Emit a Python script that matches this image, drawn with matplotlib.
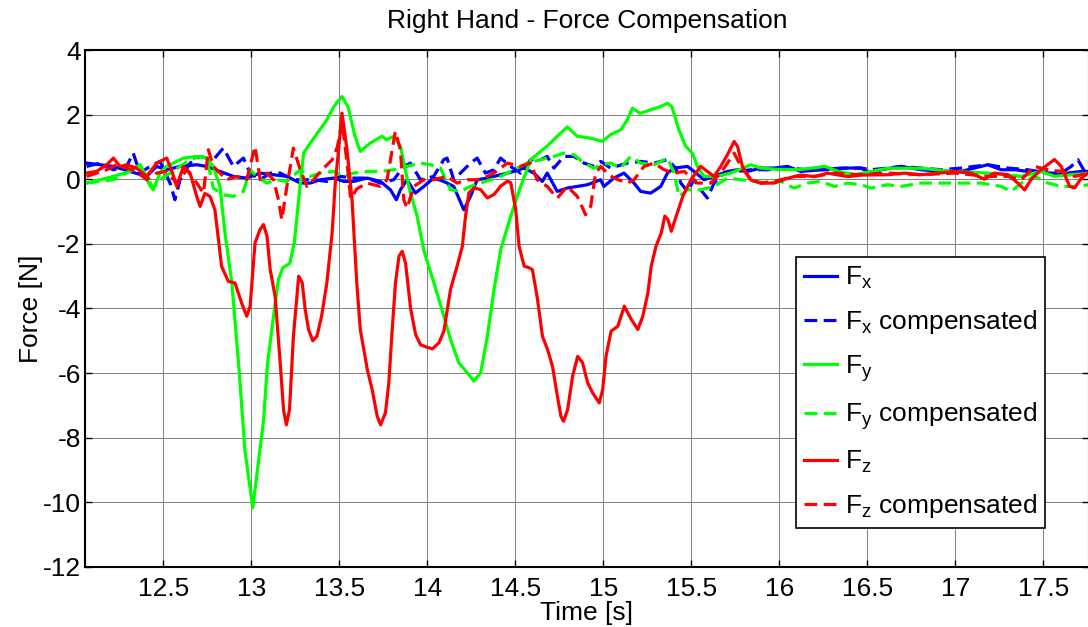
import matplotlib
matplotlib.use("Agg")
import matplotlib.pyplot as plt
from matplotlib.ticker import FormatStrFormatter

# values (time in s, force in N)
t_fx = [12.065, 12.141, 12.217, 12.311, 12.406, 12.463, 12.52, 12.596, 12.691, 12.748, 12.823, 12.899,
        12.975, 13.051, 13.127, 13.203, 13.279, 13.336, 13.393, 13.469, 13.526, 13.582, 13.658, 13.734,
        13.791, 13.825, 13.848, 13.886, 13.933, 13.981, 14.037, 14.094, 14.151, 14.208, 14.246, 14.284,
        14.341, 14.417, 14.492, 14.549, 14.606, 14.654, 14.682, 14.739, 14.796, 14.853, 14.91, 14.985,
        15.004, 15.061, 15.118, 15.175, 15.213, 15.27, 15.327, 15.365, 15.403, 15.479, 15.516, 15.573,
        15.63, 15.706, 15.763, 15.82, 15.896, 15.971, 16.047, 16.123, 16.237, 16.351, 16.465, 16.521,
        16.578, 16.692, 16.806, 16.92, 17.033, 17.109, 17.185, 17.261, 17.337, 17.413, 17.488, 17.564,
        17.64, 17.716, 17.761]
fx = [0.5, 0.449, 0.397, 0.242, 0.088, 0.397, 0.294, 0.397, 0.449, 0.397, 0.242, 0.088,
      0.036, 0.191, 0.139, 0.088, -0.118, -0.118, -0.015, 0.036, -0.067, -0.067, 0.036, -0.067,
      -0.325, -0.634, -0.325, -0.015, -0.428, -0.222, 0.036, -0.067, -0.222, -0.944, -0.531, -0.015,
      0.036, 0.139, 0.242, 0.346, 0.191, -0.067, 0.191, -0.377, -0.273, -0.222, -0.17, -0.015,
      -0.222, 0.036, 0.191, -0.118, -0.377, -0.428, -0.222, 0.191, 0.346, 0.397, 0.242, -0.015,
      0.088, 0.242, 0.294, 0.242, 0.346, 0.346, 0.397, 0.242, 0.294, 0.346, 0.346, 0.191,
      0.294, 0.397, 0.294, 0.242, 0.242, 0.346, 0.449, 0.294, 0.294, 0.242, 0.242, 0.139,
      0.191, 0.242, 0.242]

t_fx_comp = [12.065, 12.141, 12.217, 12.292, 12.33, 12.368, 12.425, 12.482, 12.539, 12.567, 12.596, 12.653,
             12.71, 12.785, 12.842, 12.899, 12.956, 12.994, 13.051, 13.108, 13.165, 13.24, 13.279, 13.355,
             13.431, 13.507, 13.582, 13.658, 13.734, 13.81, 13.867, 13.905, 13.962, 14.037, 14.094, 14.113,
             14.151, 14.189, 14.246, 14.284, 14.331, 14.379, 14.417, 14.474, 14.53, 14.587, 14.644, 14.682,
             14.72, 14.777, 14.834, 14.891, 14.948, 14.986, 15.042, 15.137, 15.213, 15.289, 15.365, 15.412,
             15.441, 15.479, 15.516, 15.554, 15.592, 15.63, 15.687, 15.763, 15.839, 15.934, 16.047, 16.161,
             16.275, 16.389, 16.465, 16.521, 16.616, 16.692, 16.806, 16.92, 17.033, 17.185, 17.299, 17.413,
             17.526, 17.602, 17.659, 17.697, 17.735, 17.761]
fx_comp = [0.397, 0.5, 0.294, 0.397, 0.81, 0.191, 0.397, 0.552, -0.118, -0.634, -0.015, 0.5,
           0.707, 0.604, 0.965, 0.397, 0.655, 0.191, -0.015, 0.191, 0.191, -0.015, -0.015, -0.015,
           -0.067, 0.088, 0.036, 0.036, -0.118, -0.015, 0.397, 0.5, -0.015, 0.088, 0.604, 0.655,
           -0.015, 0.191, 0.5, 0.655, 0.191, 0.294, 0.655, 0.397, 0.191, 0.604, 0.604, 0.707,
           0.346, 0.707, 0.707, 0.5, 0.397, 0.552, 0.346, 0.5, 0.552, 0.5, 0.604, 0.346,
           -0.118, -0.377, -0.015, -0.325, -0.583, -0.118, 0.191, 0.242, 0.294, 0.294, 0.346, 0.294,
           0.294, 0.346, 0.346, 0.294, 0.346, 0.397, 0.346, 0.294, 0.346, 0.449, 0.346, 0.294,
           0.191, 0.191, 0.397, 0.604, 0.242, 0.346]

t_fy = [12.065, 12.141, 12.217, 12.311, 12.368, 12.425, 12.444, 12.482, 12.52, 12.615, 12.691, 12.748,
        12.785, 12.823, 12.85, 12.89, 12.93, 12.965, 13.009, 13.07, 13.093, 13.127, 13.155, 13.18,
        13.22, 13.245, 13.27, 13.298, 13.336, 13.39, 13.43, 13.47, 13.516, 13.55, 13.59, 13.62,
        13.677, 13.743, 13.77, 13.81, 13.848, 13.9, 13.943, 13.98, 14.038, 14.095, 14.133, 14.18,
        14.228, 14.266, 14.304, 14.342, 14.38, 14.418, 14.475, 14.532, 14.589, 14.68, 14.74, 14.796,
        14.853, 14.93, 14.995, 15.042, 15.1, 15.137, 15.166, 15.21, 15.27, 15.327, 15.365, 15.39,
        15.43, 15.468, 15.507, 15.535, 15.572, 15.648, 15.724, 15.838, 15.89, 16.0, 16.12, 16.26,
        16.33, 16.427, 16.616, 16.806, 16.995, 17.185, 17.375, 17.488, 17.564, 17.761]
fy = [-0.118, -0.015, 0.088, 0.242, 0.449, -0.2, -0.325, 0.2, 0.397, 0.655, 0.707, 0.655,
      0.397, -0.222, -1.6, -3.2, -5.8, -8.4, -10.17, -7.5, -5.7, -4.24, -3.1, -2.74,
      -2.6, -1.97, -0.63, 0.81, 1.12, 1.53, 1.84, 2.25, 2.56, 2.25, 1.33, 0.86,
      1.12, 1.33, 1.22, 1.33, 1.02, -0.33, -1.14, -2.18, -3.2, -4.24, -4.96, -5.68,
      -5.99, -6.25, -5.99, -4.86, -3.41, -2.18, -1.14, -0.21, 0.61, 1.02, 1.33, 1.62,
      1.33, 1.27, 1.17, 1.38, 1.53, 1.84, 2.2, 2.04, 2.15, 2.25, 2.35, 2.25,
      1.53, 1.02, 0.81, 0.4, 0.09, 0.09, 0.19, 0.45, 0.35, 0.3, 0.3, 0.4,
      0.25, 0.14, 0.34, 0.34, 0.24, 0.19, 0.09, 0.24, 0.09, 0.19]

t_fy_comp = [12.065, 12.141, 12.217, 12.292, 12.368, 12.444, 12.482, 12.539, 12.596, 12.653, 12.71, 12.748,
             12.785, 12.842, 12.899, 12.956, 12.994, 13.032, 13.089, 13.146, 13.203, 13.279, 13.336, 13.393,
             13.469, 13.526, 13.582, 13.658, 13.734, 13.81, 13.886, 13.962, 14.018, 14.075, 14.132, 14.189,
             14.246, 14.303, 14.36, 14.417, 14.492, 14.568, 14.644, 14.72, 14.777, 14.834, 14.891, 14.948,
             14.986, 15.042, 15.099, 15.156, 15.213, 15.289, 15.365, 15.403, 15.431, 15.479, 15.554, 15.63,
             15.706, 15.782, 15.858, 15.934, 16.009, 16.085, 16.161, 16.237, 16.313, 16.389, 16.465, 16.521,
             16.616, 16.692, 16.806, 16.92, 17.033, 17.147, 17.261, 17.318, 17.375, 17.451, 17.526, 17.602,
             17.678, 17.761]
fy_comp = [-0.118, -0.067, -0.015, 0.191, 0.449, -0.273, -0.015, 0.191, 0.397, 0.604, 0.707, 0.655,
           -0.273, -0.48, -0.531, -0.377, 0.294, 0.088, -0.118, -0.015, -0.067, 0.294, 0.088, 0.191,
           0.242, 0.088, 0.191, 0.242, 0.242, 0.294, 0.397, 0.5, 0.449, 0.346, -0.325, -0.377,
           -0.222, -0.118, -0.015, 0.088, 0.294, 0.5, 0.604, 0.707, 0.81, 0.759, 0.5, 0.346,
           0.449, 0.5, 0.346, 0.707, 0.5, 0.449, 0.655, 0.191, -0.531, -0.325, -0.325, -0.222,
           0.036, -0.015, -0.067, -0.118, -0.067, -0.273, -0.118, -0.067, -0.222, -0.118, -0.17, -0.273,
           -0.17, -0.222, -0.118, -0.118, -0.118, -0.118, -0.222, -0.377, -0.118, 0.088, -0.118, -0.222,
           -0.222, -0.17]

t_fz = [12.065, 12.122, 12.179, 12.217, 12.255, 12.292, 12.349, 12.406, 12.463, 12.52, 12.547, 12.577,
        12.615, 12.653, 12.691, 12.71, 12.737, 12.766, 12.794, 12.832, 12.87, 12.908, 12.946, 12.975,
        12.994, 13.022, 13.05, 13.07, 13.09, 13.108, 13.136, 13.165, 13.184, 13.2, 13.218, 13.24,
        13.27, 13.29, 13.307, 13.326, 13.35, 13.374, 13.4, 13.43, 13.46, 13.478, 13.497, 13.516,
        13.545, 13.573, 13.6, 13.62, 13.66, 13.687, 13.716, 13.735, 13.763, 13.782, 13.8, 13.82,
        13.84, 13.858, 13.877, 13.906, 13.934, 13.962, 14.0, 14.03, 14.067, 14.095, 14.133, 14.17,
        14.2, 14.218, 14.237, 14.266, 14.304, 14.342, 14.38, 14.418, 14.456, 14.475, 14.503, 14.522,
        14.551, 14.58, 14.598, 14.627, 14.655, 14.684, 14.712, 14.74, 14.76, 14.775, 14.798, 14.826,
        14.855, 14.883, 14.912, 14.94, 14.978, 14.997, 15.016, 15.045, 15.083, 15.12, 15.16, 15.197,
        15.225, 15.254, 15.273, 15.3, 15.33, 15.35, 15.368, 15.387, 15.415, 15.453, 15.5, 15.554,
        15.592, 15.63, 15.668, 15.706, 15.744, 15.763, 15.791, 15.838, 15.896, 15.971, 16.047, 16.123,
        16.2, 16.275, 16.39, 16.465, 16.616, 16.711, 16.806, 16.9, 16.995, 17.09, 17.166, 17.223,
        17.299, 17.356, 17.394, 17.432, 17.488, 17.564, 17.602, 17.65, 17.678, 17.716, 17.754]
fz = [0.191, 0.242, 0.449, 0.655, 0.397, 0.449, 0.346, 0.088, 0.5, 0.655, 0.294, -0.222,
      0.397, 0.191, -0.531, -0.84, -0.44, -0.531, -0.94, -2.69, -3.16, -3.21, -3.83, -4.24,
      -3.93, -1.97, -1.56, -1.4, -1.76, -2.79, -3.62, -5.68, -7.13, -7.6, -7.13, -4.86,
      -3.0, -3.2, -4.03, -4.65, -5.0, -4.86, -4.24, -3.21, -1.66, -0.11, 0.92, 2.05,
      0.9, -0.63, -3.2, -4.65, -5.89, -6.5, -7.33, -7.6, -7.23, -6.3, -4.76, -3.2,
      -2.38, -2.23, -2.59, -4.0, -4.8, -5.12, -5.2, -5.25, -5.06, -4.7, -3.4, -2.69,
      -2.07, -1.14, -0.42, -0.27, -0.32, -0.58, -0.47, -0.21, -0.06, -0.11, -0.94, -2.07,
      -2.69, -2.74, -2.8, -3.72, -4.86, -5.27, -5.79, -6.72, -7.34, -7.49, -7.13, -6.1,
      -5.48, -5.68, -6.3, -6.61, -6.92, -6.51, -5.48, -4.7, -4.55, -3.93, -4.34, -4.65,
      -4.24, -3.52, -2.69, -2.07, -1.66, -1.14, -1.25, -1.61, -1.14, -0.52, 0.0, 0.4,
      0.24, 0.09, 0.4, 0.76, 1.17, 1.02, 0.4, -0.02, -0.12, -0.12, 0.03, 0.13,
      0.08, 0.19, 0.08, 0.13, 0.14, 0.19, 0.14, 0.19, 0.24, 0.19, 0.0, 0.19,
      0.14, -0.12, -0.33, 0.0, 0.3, 0.61, 0.4, -0.22, -0.27, 0.03, 0.19]

t_fz_comp = [12.065, 12.122, 12.179, 12.236, 12.292, 12.349, 12.406, 12.463, 12.52, 12.577, 12.634, 12.691,
             12.729, 12.757, 12.785, 12.823, 12.861, 12.918, 12.975, 13.022, 13.051, 13.089, 13.127, 13.155,
             13.174, 13.203, 13.24, 13.279, 13.317, 13.355, 13.402, 13.46, 13.49, 13.516, 13.545, 13.565,
             13.6, 13.658, 13.734, 13.772, 13.819, 13.848, 13.867, 13.886, 13.924, 13.981, 14.037, 14.113,
             14.17, 14.227, 14.303, 14.379, 14.455, 14.53, 14.587, 14.625, 14.682, 14.739, 14.796, 14.853,
             14.9, 14.929, 14.957, 14.986, 15.023, 15.061, 15.137, 15.175, 15.232, 15.289, 15.346, 15.403,
             15.46, 15.535, 15.611, 15.668, 15.706, 15.744, 15.782, 15.839, 15.896, 15.971, 16.085, 16.199,
             16.313, 16.465, 16.616, 16.806, 16.995, 17.185, 17.299, 17.375, 17.413, 17.451, 17.526, 17.602,
             17.678, 17.761]
fz_comp = [0.088, 0.191, 0.294, 0.449, 0.346, 0.242, -0.015, 0.191, 0.242, -0.118, 0.294, -0.118,
           -0.428, 0.913, 0.397, 0.191, -0.015, 0.088, -0.015, 1.016, -0.015, 0.191, -0.015, -0.634,
           -1.253, -0.222, 0.965, 0.294, -0.222, -0.015, 0.294, 0.6, 1.0, 1.8, 0.5, -0.6,
           -0.3, -0.118, -0.222, -0.015, 1.48, 0.913, -0.634, -0.892, -0.222, -0.015, -0.015, 0.088,
           -0.118, -0.015, -0.015, 0.191, 0.5, 0.397, 0.5, -0.015, -0.222, -0.583, -0.222, -0.531,
           -1.098, -0.84, 0.191, 0.397, 0.191, 0.036, -0.118, -0.015, 0.397, 0.5, 0.294, 0.191,
           0.242, -0.118, -0.118, 0.191, 0.5, 0.81, 0.397, -0.015, -0.118, -0.067, 0.088, 0.088,
           0.191, 0.139, 0.191, 0.139, 0.191, 0.088, 0.088, -0.015, 0.191, 0.397, 0.294, 0.242,
           0.088, 0.191]

x_ticks = [12.5, 13, 13.5, 14, 14.5, 15, 15.5, 16, 16.5, 17, 17.5]
y_ticks = [-12, -10, -8, -6, -4, -2, 0, 2, 4]

plt.rcParams['font.family'] = ['Liberation Sans', 'DejaVu Sans']
plt.rcParams['mathtext.fontset'] = 'custom'
plt.rcParams['mathtext.rm'] = 'Liberation Sans'
plt.rcParams['mathtext.it'] = 'Liberation Sans'
plt.rcParams['axes.unicode_minus'] = False

W, H = 1088, 627
fig = plt.figure(figsize=(W / 100, H / 100), dpi=100)
ax = fig.add_axes([85 / W, 1 - 567 / H, (1089 - 85) / W, (567 - 50) / H])

lw = 2.3
dash = (4, 2)
ax.plot(t_fx, fx, color='#0000ff', lw=lw, label=r'F$_\mathrm{x}$')
ax.plot(t_fx_comp, fx_comp, color='#0000ff', lw=lw, dashes=dash, label=r'F$_\mathrm{x}$ compensated')
ax.plot(t_fy, fy, color='#00ff00', lw=lw, label=r'F$_\mathrm{y}$')
ax.plot(t_fy_comp, fy_comp, color='#00ff00', lw=lw, dashes=dash, label=r'F$_\mathrm{y}$ compensated')
ax.plot(t_fz, fz, color='#ff0000', lw=lw, label=r'F$_\mathrm{z}$')
ax.plot(t_fz_comp, fz_comp, color='#ff0000', lw=lw, dashes=dash, label=r'F$_\mathrm{z}$ compensated')

ax.set_xlim(12.056, 17.76)
ax.set_ylim(-12, 4)
ax.set_xticks(x_ticks)
ax.set_yticks(y_ticks)
ax.xaxis.set_major_formatter(FormatStrFormatter('%g'))
ax.grid(True, color='0.5', lw=0.7)
ax.tick_params(direction='in', length=5, width=1, labelsize=19, top=True, right=True)
ax.tick_params(axis='x', pad=7)
ax.tick_params(axis='y', pad=3)
for s in ax.spines.values():
    s.set_linewidth(1.5)

ax.set_title('Right Hand - Force Compensation', fontsize=19, pad=16)
ax.set_xlabel('Time [s]', fontsize=19, labelpad=0)
ax.set_ylabel('Force [N]', fontsize=19, labelpad=0)

leg = ax.legend(loc='lower right', bbox_to_anchor=((1045 - 85) / (1089 - 85), (567 - 528) / (567 - 50)),
                fontsize=19, fancybox=False, framealpha=1, edgecolor='black', handlelength=1.25,
                handletextpad=0.3, labelspacing=0.64, borderpad=0.3, borderaxespad=0)
leg.get_frame().set_linewidth(1.2)

fig.savefig('out.png', dpi=100)
